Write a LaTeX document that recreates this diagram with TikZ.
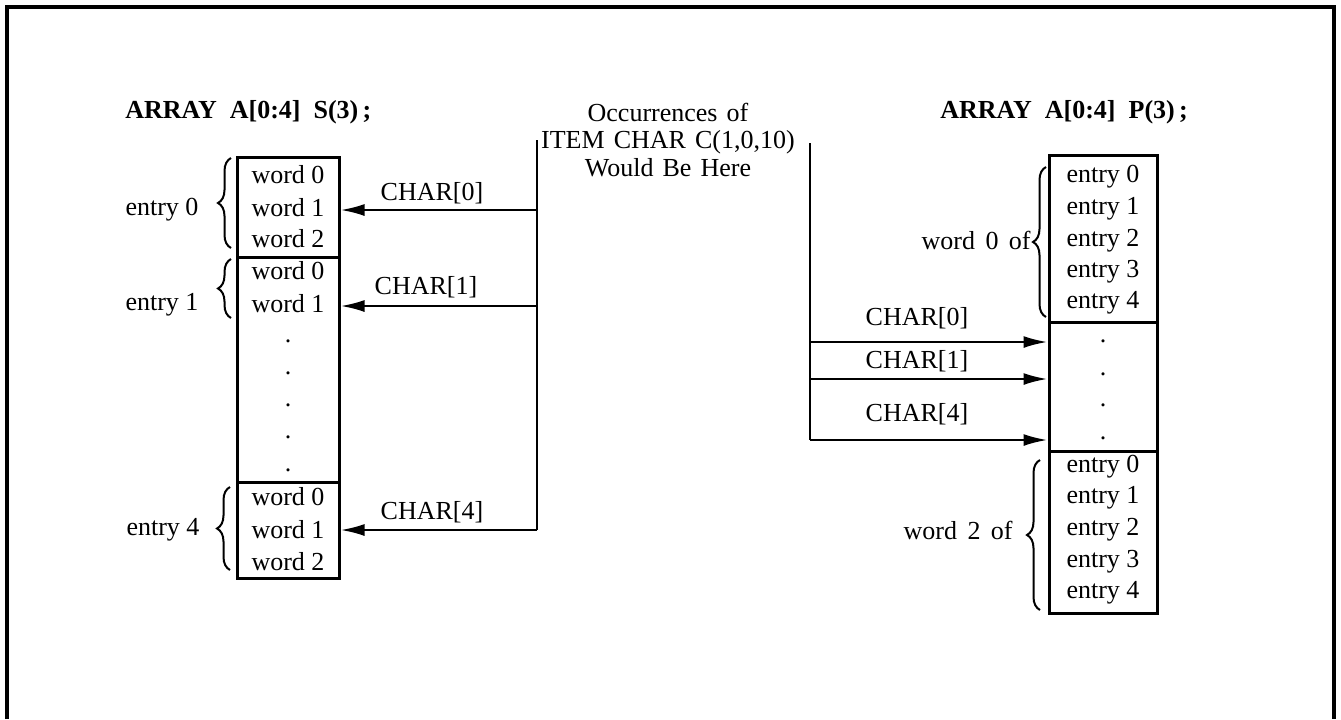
\documentclass[tikz,border=0pt]{standalone}
\usepackage{fontspec}
\setmainfont{Liberation Serif}
\usetikzlibrary{arrows.meta,positioning,decorations.pathreplacing}

\begin{document}
\begin{tikzpicture}[
    x=0.5pt,y=-0.5pt,
    every node/.style={font=\fontsize{13}{13.75}\selectfont,inner sep=0pt},
    cell/.style={rectangle,draw,line width=1.5pt,inner sep=0pt},
    head/.style={font=\fontsize{13}{13.75}\selectfont\bfseries,anchor=west},
    wire/.style={line width=1.2pt},
    arr/.style={-{Latex[length=12pt,width=6pt]},line width=1.2pt},
    brc/.style={decorate,decoration={brace,amplitude=6.5pt},line width=1pt}
  ]
  \useasboundingbox (0,0) rectangle (1341,719);
  \draw[line width=2pt] (7,719) -- (7,7) -- (1334,7) -- (1334,719);

  \node[head] (shead) at (125,112) {ARRAY\hspace{0.5em}A[0:4]\hspace{0.5em}S(3)\,;};
  \node[head] (phead) at (940,112) {ARRAY\hspace{0.5em}A[0:4]\hspace{0.5em}P(3)\,;};
  \node[align=center] (occ) at (668,140) {Occurrences\hspace{0.35em}of\\ITEM\hspace{0.35em}CHAR\hspace{0.35em}C(1,0,10)\\Would\hspace{0.35em}Be\hspace{0.35em}Here};

  \node[cell,minimum width=51pt,minimum height=50pt] (sa) at (288,207) {};
  \node[cell,minimum width=51pt,minimum height=112.5pt] (sb) at (288,369.5) {};
  \node[cell,minimum width=51pt,minimum height=48pt] (sc) at (288,530) {};
  \foreach \y/\t [count=\i] in {175/word 0,208/word 1,239/word 2,271/word 0,304/word 1,497/word 0,530/word 1,562/word 2}
    \node (sw\i) at (288,\y) {\t};
  \foreach \y [count=\i] in {341,373,405,437,470}
    \node (sd\i) at (288,\y) {.};

  \node[cell,minimum width=54pt,minimum height=83.5pt] (pa) at (1103,238.5) {};
  \node[cell,minimum width=54pt,minimum height=64.5pt] (pb) at (1103,386.5) {};
  \node[cell,minimum width=54pt,minimum height=81pt] (pc) at (1103,532) {};
  \foreach \y/\t [count=\i] in {177/entry 0,209/entry 1,241/entry 2,272/entry 3,303/entry 4,467/entry 0,498/entry 1,530/entry 2,562/entry 3,593/entry 4}
    \node (pe\i) at (1103,\y) {\t};
  \foreach \y [count=\i] in {341,374,405,438}
    \node (pd\i) at (1103,\y) {.};

  \draw[brc] (231,248) -- (231,158);
  \draw[brc] (231,318) -- (231,259);
  \draw[brc] (230,570) -- (230,487);
  \node (e0) at (162,210) {entry 0};
  \node (e1) at (162,305) {entry 1};
  \node (e4) at (163,530) {entry 4};

  \draw[brc] (1046,317) -- (1046,167);
  \draw[brc] (1040,610) -- (1040,460);
  \node[anchor=east] (w0) at (1031,240) {word\hspace{0.4em}0\hspace{0.4em}of};
  \node[anchor=east] (w2) at (1013,530) {word\hspace{0.4em}2\hspace{0.4em}of};

  \coordinate (lt) at (537,140);
  \coordinate (l0) at (537,210);
  \coordinate (l1) at (537,306);
  \coordinate (l4) at (537,530);
  \draw[wire] (lt) -- (l4);
  \draw[arr] (l0) -- (l0 -| sa.east);
  \draw[arr] (l1) -- (l1 -| sb.east);
  \draw[arr] (l4) -- (l4 -| sc.east);
  \node (sc0) at (432,193) {CHAR[0]};
  \node (sc1) at (426,287) {CHAR[1]};
  \node (sc4) at (432,512) {CHAR[4]};

  \coordinate (rt) at (810,143);
  \coordinate (r0) at (810,342);
  \coordinate (r1) at (810,379);
  \coordinate (r4) at (810,440);
  \draw[wire] (rt) -- (r4);
  \draw[arr] (r0) -- (r0 -| pb.west);
  \draw[arr] (r1) -- (r1 -| pb.west);
  \draw[arr] (r4) -- (r4 -| pb.west);
  \node (pc0) at (917,318) {CHAR[0]};
  \node (pc1) at (917,361) {CHAR[1]};
  \node (pc4) at (917,414) {CHAR[4]};
\end{tikzpicture}
\end{document}
